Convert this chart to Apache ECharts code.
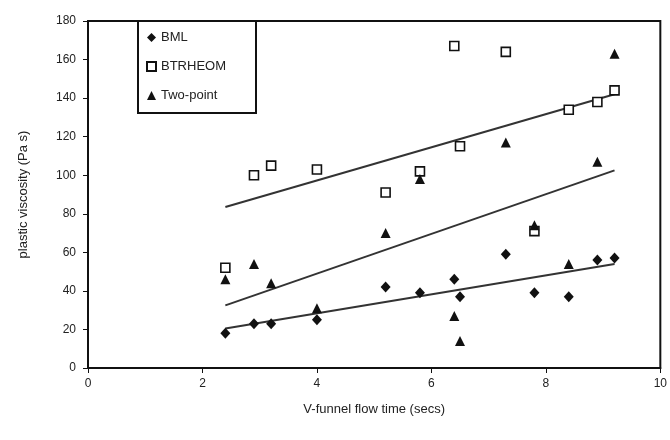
<!DOCTYPE html>
<html>
<head>
<meta charset="utf-8">
<script src="https://cdn.jsdelivr.net/npm/echarts@6/dist/echarts.min.js"></script>
<style>
  html, body { margin: 0; padding: 0; background: #fff; }
  #chart { width: 670px; height: 440px; }
</style>
</head>
<body>
<div id="chart"></div>
<script>
// V-funnel flow time (secs) for each mix
var flowTime = [2.4, 2.9, 3.2, 4.0, 5.2, 5.8, 6.4, 6.5, 7.3, 7.8, 8.4, 8.9, 9.2];
// plastic viscosity (Pa s)
var bml = [18, 23, 23, 25, 42, 39, 46, 37, 59, 39, 37, 56, 57];
var btrheom = [52, 100, 105, 103, 91, 102, 167, 115, 164, 71, 134, 138, 144];
var twoPoint = [46, 54, 44, 31, 70, 98, 27, 14, 117, 74, 54, 107, 163];

// trend line end points
var trendX = [2.4, 9.2];
var bmlTrend = [20.5, 54];
var btrheomTrend = [83.5, 142];
var twoPointTrend = [32.5, 102.5];

function pairs(xs, ys) {
  return xs.map(function(x, i) { return [x, ys[i]]; });
}

var font = "'Liberation Sans', Arial, sans-serif";

var myChart = echarts.init(document.getElementById("chart"));
var option = {
  backgroundColor: "#fff",
  animation: false,
  textStyle: { fontFamily: font },
  grid: {
    left: 88,
    right: 9,
    top: 21,
    bottom: 72,
    show: true,
    borderColor: "#111",
    borderWidth: 2
  },
  legend: {
    data: ["BML", "BTRHEOM", "Two-point"],
    orient: "vertical",
    left: 138,
    top: 21,
    padding: [10, 30, 11, 8],
    itemGap: 16,
    itemWidth: 9,
    itemHeight: 9,
    borderColor: "#111",
    borderWidth: 2,
    backgroundColor: "#fff",
    textStyle: { fontSize: 13, color: "#222", fontFamily: font }
  },
  xAxis: {
    type: "value",
    min: 0,
    max: 10,
    interval: 2,
    name: "V-funnel flow time (secs)",
    nameLocation: "middle",
    nameGap: 35,
    nameTextStyle: { fontSize: 13, color: "#222" },
    axisLine: { lineStyle: { color: "#111", width: 2 } },
    axisTick: { length: 5, lineStyle: { color: "#111" } },
    axisLabel: { fontSize: 12, color: "#222", margin: 10 },
    splitLine: { show: false }
  },
  yAxis: {
    type: "value",
    min: 0,
    max: 180,
    interval: 20,
    name: "plastic viscosity (Pa s)",
    nameLocation: "middle",
    nameGap: 58,
    nameTextStyle: { fontSize: 13, color: "#222" },
    axisLine: { show: true, lineStyle: { color: "#111", width: 2 } },
    axisTick: { show: true, length: 5, lineStyle: { color: "#111" } },
    axisLabel: { fontSize: 12, color: "#222", margin: 12 },
    splitLine: { show: false }
  },
  series: [
    {
      name: "BML",
      type: "scatter",
      symbol: "diamond",
      symbolSize: [10, 11],
      itemStyle: { color: "#111", opacity: 1 },
      data: pairs(flowTime, bml),
      z: 5
    },
    {
      name: "BTRHEOM",
      type: "scatter",
      symbol: "rect",
      symbolSize: 9,
      itemStyle: { color: "#fff", borderColor: "#111", borderWidth: 1.6, opacity: 1 },
      data: pairs(flowTime, btrheom),
      z: 5
    },
    {
      name: "Two-point",
      type: "scatter",
      symbol: "triangle",
      symbolSize: 10,
      itemStyle: { color: "#111", opacity: 1 },
      data: pairs(flowTime, twoPoint),
      z: 5
    },
    {
      name: "BML fit",
      type: "line",
      showSymbol: false,
      lineStyle: { color: "#333", width: 2 },
      data: pairs(trendX, bmlTrend),
      z: 3
    },
    {
      name: "BTRHEOM fit",
      type: "line",
      showSymbol: false,
      lineStyle: { color: "#333", width: 2 },
      data: pairs(trendX, btrheomTrend),
      z: 3
    },
    {
      name: "Two-point fit",
      type: "line",
      showSymbol: false,
      lineStyle: { color: "#333", width: 2 },
      data: pairs(trendX, twoPointTrend),
      z: 3
    }
  ]
};
myChart.setOption(option);
</script>
</body>
</html>
